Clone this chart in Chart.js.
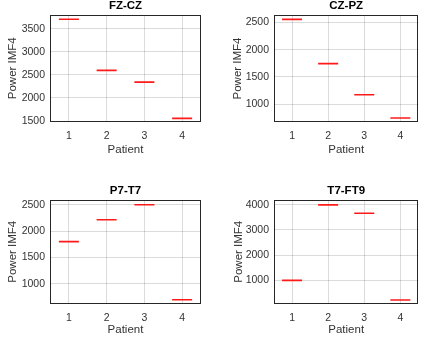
<!DOCTYPE html>
<html>
<head>
<meta charset="utf-8">
<script src="https://cdn.jsdelivr.net/npm/chart.js@4.4.1/dist/chart.umd.min.js"></script>
<style>
  body { margin: 0; background: #fff; width: 430px; height: 337px; position: relative; overflow: hidden; }
  canvas { position: absolute; }
</style>
</head>
<body>
<canvas id="c1" width="215" height="168" style="left:0;top:0"></canvas>
<canvas id="c2" width="215" height="168" style="left:215px;top:0"></canvas>
<canvas id="c3" width="215" height="169" style="left:0;top:168px"></canvas>
<canvas id="c4" width="215" height="169" style="left:215px;top:168px"></canvas>
<script>
// data
const patients = ['1', '2', '3', '4'];

const fzcz_power = [3708, 2598, 2343, 1558];
const czpz_power = [2560, 1745, 1172, 745];
const p7t7_power = [1803, 2218, 2505, 695];
const t7ft9_power = [1000, 3990, 3660, 225];

const fzcz_ticks = [1500, 2000, 2500, 3000, 3500];
const czpz_ticks = [1000, 1500, 2000, 2500];
const p7t7_ticks = [1000, 1500, 2000, 2500];
const t7ft9_ticks = [1000, 2000, 3000, 4000];

const FONT = 'Liberation Sans, Arial, sans-serif';
const TEXT = '#333333';

// frame round the plot area + title centred on it (matlab style)
const frameAndTitle = {
  id: 'frameAndTitle',
  afterDraw(chart, args, opts) {
    const a = chart.chartArea;
    const ctx = chart.ctx;
    ctx.save();
    ctx.strokeStyle = '#262626';
    ctx.lineWidth = 1;
    ctx.strokeRect(Math.round(a.left) + 0.5, Math.round(a.top) + 0.5,
      Math.round(a.right - a.left) - 1, Math.round(a.bottom - a.top) - 1);
    ctx.fillStyle = '#000';
    ctx.font = 'bold 11.5px ' + FONT;
    ctx.textAlign = 'center';
    ctx.textBaseline = 'middle';
    ctx.fillText(opts.text, (a.left + a.right) / 2, a.top - 9);
    ctx.restore();
  }
};

function makePanel(id, title, values, ticks, yMin, yMax, box) {
  const canvas = document.getElementById(id);
  const W = canvas.width, H = canvas.height;
  new Chart(canvas, {
    type: 'line',
    data: {
      labels: patients,
      datasets: [{
        data: values,
        showLine: false,
        pointStyle: 'line',
        pointRadius: 10,
        pointHoverRadius: 10,
        pointBorderWidth: 1.6,
        borderColor: '#ff1a1a',
        backgroundColor: '#ff1a1a'
      }]
    },
    options: {
      responsive: false,
      animation: false,
      layout: { padding: { top: box.top, right: W - box.right, left: 0, bottom: 0 } },
      plugins: {
        legend: { display: false },
        tooltip: { enabled: false },
        frameAndTitle: { text: title }
      },
      scales: {
        x: {
          offset: true,
          grid: { color: 'rgba(0,0,0,0.14)', drawTicks: false, offset: false },
          border: { display: false },
          ticks: { color: TEXT, font: { family: FONT, size: 10.5 }, padding: 8 },
          title: { display: true, text: 'Patient', color: TEXT,
                   font: { family: FONT, size: 11.5 }, padding: { top: 0, bottom: box.xPad } },
          afterFit: s => { s.height = H - box.bottom; }
        },
        y: {
          min: yMin,
          max: yMax,
          grid: { color: 'rgba(0,0,0,0.14)', drawTicks: false },
          border: { display: false },
          ticks: { color: TEXT, font: { family: FONT, size: 10.5 }, padding: 5,
                   callback: v => String(v) },
          afterBuildTicks: s => { s.ticks = ticks.map(v => ({ value: v })); },
          title: { display: true, text: 'Power IMF4', color: TEXT,
                   font: { family: FONT, size: 11.5 }, padding: { top: box.yPad, bottom: 0 } },
          afterFit: s => { s.width = box.left; }
        }
      }
    },
    plugins: [frameAndTitle]
  });
}

makePanel('c1', 'FZ-CZ', fzcz_power, fzcz_ticks, 1490, 3800,
  { left: 50, right: 201, top: 15, bottom: 121.5, yPad: 6, xPad: 11.5 });
makePanel('c2', 'CZ-PZ', czpz_power, czpz_ticks, 670, 2640,
  { left: 59, right: 210, top: 15, bottom: 122, yPad: 16, xPad: 11 });
makePanel('c3', 'P7-T7', p7t7_power, p7t7_ticks, 625, 2595,
  { left: 50, right: 201, top: 32, bottom: 135.5, yPad: 6, xPad: 0 });
makePanel('c4', 'T7-FT9', t7ft9_power, t7ft9_ticks, 85, 4185,
  { left: 59, right: 210, top: 32, bottom: 135.5, yPad: 17, xPad: 0 });
</script>
</body>
</html>
